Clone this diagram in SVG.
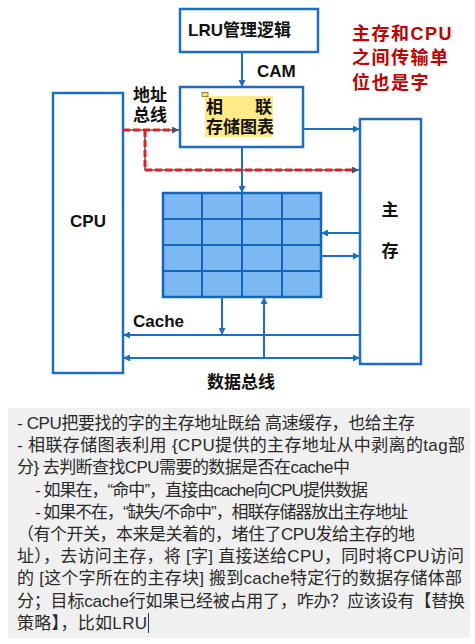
<svg xmlns="http://www.w3.org/2000/svg" width="475" height="644" viewBox="0 0 475 644">
<style>
.box{fill:#fff;stroke:#1c6ec4;stroke-width:2.5}
.ln{fill:none;stroke:#1c6ec4;stroke-width:2}
.lbl{font-family:"Liberation Sans","Noto Sans CJK SC",sans-serif;font-weight:bold;font-size:17px;fill:#111}
.red{font-family:"Liberation Sans","Noto Sans CJK SC",sans-serif;font-weight:bold;font-size:18px;fill:#c00000;letter-spacing:1.5px}
.txt{font-family:"Liberation Sans","Noto Sans CJK SC",sans-serif;font-size:17px;fill:#2a2a2a}
.cell{fill:#7cb9f2;stroke:#1565c0;stroke-width:2.5}
.gl{stroke:#1565c0;stroke-width:2}
</style>
<defs>
<marker id="ab" viewBox="0 0 8 8" refX="8" refY="4" markerWidth="7" markerHeight="7" markerUnits="userSpaceOnUse" orient="auto-start-reverse"><path d="M0,0 L8,4 L0,8 z" fill="#1c6ec4"/></marker>
<marker id="ag" viewBox="0 0 8 8" refX="8" refY="4" markerWidth="7" markerHeight="7" markerUnits="userSpaceOnUse" orient="auto"><path d="M0,0 L8,4 L0,8 z" fill="#4a5070"/></marker>
</defs>
<rect width="475" height="644" fill="#fff"/>

<g id="lru">
<rect class="box" x="180" y="9" width="138" height="43"/>
<text class="lbl" x="188" y="36">LRU管理逻辑</text>
</g>
<g id="cam-label"><text class="lbl" x="257" y="77">CAM</text></g>

<g id="assoc">
<rect class="box" x="180" y="87" width="123" height="60"/>
<rect x="205" y="96" width="68" height="41" fill="#ffeb85"/>
<rect x="202" y="92.5" width="6" height="4" fill="#ffe060" stroke="#7a6a20" stroke-width="0.8"/>
<text class="lbl"><tspan x="206" y="113" textLength="66" lengthAdjust="spacing">相　　联</tspan><tspan x="206" y="133">存储图表</tspan></text>
</g>

<g id="addrbus-label">
<text class="lbl" font-size="16.5"><tspan x="133" y="101">地址</tspan><tspan x="133" y="121">总线</tspan></text>
</g>

<g id="cpu">
<rect class="box" x="53" y="93" width="70" height="280"/>
<text class="lbl" x="88" y="227" text-anchor="middle" font-size="18">CPU</text>
</g>

<g id="mainmem">
<rect class="box" x="360" y="119" width="61" height="245"/>
<text class="lbl" x="390" y="216" text-anchor="middle" font-size="16">主</text>
<text class="lbl" x="390" y="257" text-anchor="middle" font-size="16">存</text>
</g>

<g id="cache-grid">
<rect class="cell" x="163" y="193" width="158" height="104"/>
<line class="gl" x1="202" y1="193" x2="202" y2="297"/>
<line class="gl" x1="242" y1="193" x2="242" y2="297"/>
<line class="gl" x1="282" y1="193" x2="282" y2="297"/>
<line class="gl" x1="163" y1="219" x2="321" y2="219"/>
<line class="gl" x1="163" y1="245" x2="321" y2="245"/>
<line class="gl" x1="163" y1="271" x2="321" y2="271"/>
</g>

<g id="cache-label"><text class="lbl" x="133" y="327">Cache</text></g>
<g id="databus-label"><text class="lbl" x="207" y="388">数据总线</text></g>

<g id="note">
<text class="red"><tspan x="352" y="40">主存和CPU</tspan><tspan x="352" y="64">之间传输单</tspan><tspan x="352" y="89">位也是字</tspan></text>
</g>

<g id="connectors">
<line class="ln" x1="242" y1="52" x2="242" y2="87" marker-end="url(#ab)"/>
<line class="ln" x1="242" y1="147" x2="242" y2="193" marker-end="url(#ab)"/>
<line class="ln" x1="303" y1="129" x2="360" y2="129" marker-end="url(#ab)"/>
<path d="M123,130 H179" fill="none" stroke="#5a5a78" stroke-width="1.5" marker-end="url(#ag)"/>
<path d="M145,130 V170 H359" fill="none" stroke="#5a5a78" stroke-width="1.5" marker-end="url(#ag)"/>
<path d="M123,130 H172" fill="none" stroke="#e0201e" stroke-width="3" stroke-dasharray="7 3"/>
<path d="M145,130 V170 H352" fill="none" stroke="#e0201e" stroke-width="3" stroke-dasharray="7 3"/>
<line class="ln" x1="360" y1="233" x2="321" y2="233" marker-end="url(#ab)"/>
<line class="ln" x1="321" y1="256" x2="360" y2="256" marker-end="url(#ab)"/>
<line class="ln" x1="222" y1="297" x2="222" y2="335" marker-end="url(#ab)"/>
<line class="ln" x1="360" y1="335" x2="123" y2="335" marker-end="url(#ab)"/>
<line class="ln" x1="123" y1="358" x2="360" y2="358" marker-start="url(#ab)" marker-end="url(#ab)"/>
<line class="ln" x1="264" y1="358" x2="264" y2="297" marker-end="url(#ab)"/>
</g>

<g id="textpanel">
<rect x="8" y="408" width="462" height="230" fill="#f0f0f0"/>
<text class="txt"><tspan x="17" y="429" textLength="398" lengthAdjust="spacing">- CPU把要找的字的主存地址既给 高速缓存，也给主存</tspan><tspan x="17" y="451" textLength="448" lengthAdjust="spacing">- 相联存储图表利用 {CPU提供的主存地址从中剥离的tag部</tspan><tspan x="17" y="473" textLength="333" lengthAdjust="spacing">分} 去判断查找CPU需要的数据是否在cache中</tspan><tspan x="35" y="496" textLength="333" lengthAdjust="spacing">- 如果在，“命中”，直接由cache向CPU提供数据</tspan><tspan x="35" y="518" textLength="373" lengthAdjust="spacing">- 如果不在，“缺失/不命中”，相联存储器放出主存地址</tspan><tspan x="17" y="540" textLength="398" lengthAdjust="spacing">（有个开关，本来是关着的，堵住了CPU发给主存的地</tspan><tspan x="17" y="562" textLength="447" lengthAdjust="spacing">址），去访问主存，将 [字] 直接送给CPU，同时将CPU访问</tspan><tspan x="17" y="584" textLength="445" lengthAdjust="spacing">的 [这个字所在的主存块] 搬到cache特定行的数据存储体部</tspan><tspan x="17" y="607" textLength="448" lengthAdjust="spacing">分；目标cache行如果已经被占用了，咋办？应该设有【替换</tspan><tspan x="17" y="629" textLength="130" lengthAdjust="spacing">策略】，比如LRU</tspan></text>
<line x1="148.5" y1="613" x2="148.5" y2="633" stroke="#333" stroke-width="1"/>
</g>
</svg>
